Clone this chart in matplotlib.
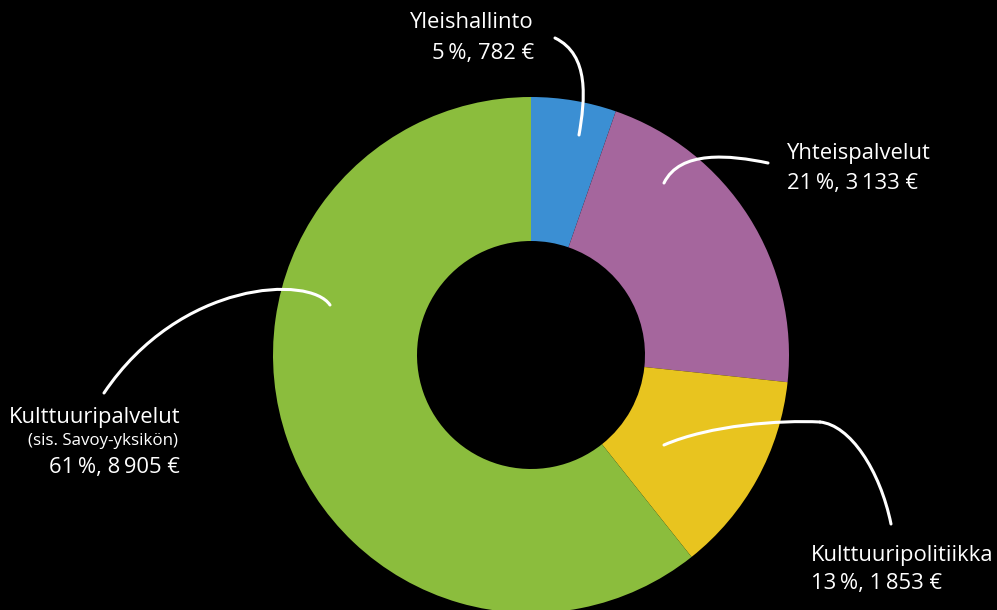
import matplotlib
matplotlib.use("Agg")
import matplotlib.pyplot as plt
from matplotlib.path import Path
from matplotlib.patches import PathPatch

categories = ["Yleishallinto", "Yhteispalvelut", "Kulttuuripolitiikka", "Kulttuuripalvelut"]
values = [782, 3133, 1853, 8905]
percents = [5, 21, 13, 61]
value_labels = ["782", "3\u2009133", "1\u2009853", "8\u2009905"]
colors = ["#3b8fd3", "#a5669d", "#e8c41f", "#8bbd3d"]

plt.rcParams['font.family'] = ['Open Sans', 'DejaVu Sans']

W, H = 997, 610
fig = plt.figure(figsize=(W / 100, H / 100), dpi=100, facecolor="black")
ax = fig.add_axes([0, 0, 1, 1])
ax.set_facecolor("black")
ax.set_xlim(0, W)
ax.set_ylim(0, H)
ax.set_aspect("equal")
ax.axis("off")

cx, cy = 531, H - 355
R = 258
ax.pie(values, colors=colors, startangle=90, counterclock=False,
       center=(cx, cy), radius=R,
       wedgeprops=dict(width=R - 114, edgecolor="none", linewidth=0))
ax.set_xlim(0, W)
ax.set_ylim(0, H)

def py(y):
    return H - y

fs = 15.8
def lab(i):
    return f"{percents[i]}\u2009%, {value_labels[i]} \u20ac"

# Yleishallinto
ax.text(534, py(22), categories[0], color="white", fontsize=fs, ha="right", va="center")
ax.text(534, py(53), lab(0), color="white", fontsize=fs, ha="right", va="center")
# Yhteispalvelut
ax.text(787, py(153), categories[1], color="white", fontsize=fs, ha="left", va="center")
ax.text(787, py(183), lab(1), color="white", fontsize=fs, ha="left", va="center")
# Kulttuuripolitiikka
ax.text(811, py(555), categories[2], color="white", fontsize=fs, ha="left", va="center")
ax.text(811, py(583), lab(2), color="white", fontsize=fs, ha="left", va="center")
# Kulttuuripalvelut
ax.text(180, py(417), categories[3], color="white", fontsize=fs, ha="right", va="center")
ax.text(178, py(441), "(sis. Savoy-yksikön)", color="white", fontsize=12.2, ha="right", va="center")
ax.text(180, py(468), lab(3), color="white", fontsize=fs, ha="right", va="center")

def curve(pts):
    pts = [(x, py(y)) for x, y in pts]
    codes = [Path.MOVETO] + [Path.CURVE4] * 3
    ax.add_patch(PathPatch(Path(pts, codes), fill=False, edgecolor="white",
                           lw=2.2, capstyle="round", zorder=5))

curve([(555, 38), (590, 55), (585, 100), (579, 135)])
curve([(768, 163), (730, 155), (680, 150), (664, 183)])
curve([(330, 305), (310, 275), (180, 280), (104, 393)])
curve([(664, 445), (710, 425), (780, 420), (820, 422)])
curve([(820, 422), (850, 425), (880, 470), (891, 524)])

fig.savefig("out.png", dpi=100, facecolor="black")
